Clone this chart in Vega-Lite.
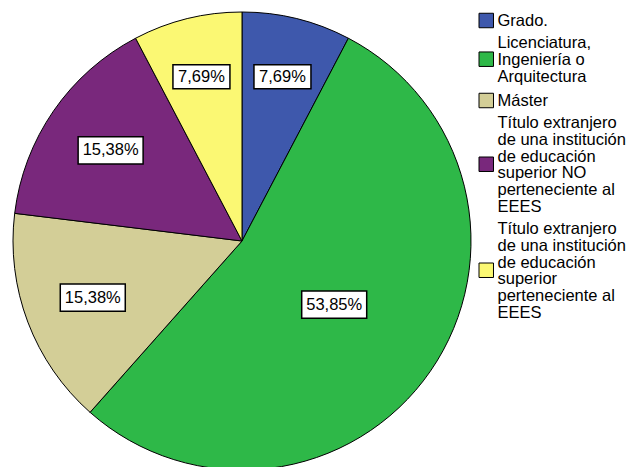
{
  "$schema": "https://vega.github.io/schema/vega-lite/v6.json",
  "autosize": {"type": "none"},
  "width": 458,
  "height": 458,
  "padding": {"left": 13, "top": 12, "right": 164, "bottom": 0},
  "background": "white",
  "config": {"view": {"stroke": null}, "font": "Liberation Sans"},
  "data": {
    "values": [
      {"orden": 1, "categoria": "Grado.", "porcentaje": 7.69, "etiqueta": "7,69%"},
      {"orden": 2, "categoria": "Licenciatura,\nIngeniería o\nArquitectura", "porcentaje": 53.85, "etiqueta": "53,85%"},
      {"orden": 3, "categoria": "Máster", "porcentaje": 15.38, "etiqueta": "15,38%"},
      {"orden": 4, "categoria": "Título extranjero\nde una institución\nde educación\nsuperior NO\nperteneciente al\nEEES", "porcentaje": 15.38, "etiqueta": "15,38%"},
      {"orden": 5, "categoria": "Título extranjero\nde una institución\nde educación\nsuperior\nperteneciente al\nEEES", "porcentaje": 7.69, "etiqueta": "7,69%"}
    ]
  },
  "layer": [
    {
      "mark": {"type": "arc", "stroke": "black", "strokeWidth": 1, "outerRadius": 229},
      "encoding": {
        "theta": {"field": "porcentaje", "type": "quantitative", "stack": true},
        "order": {"field": "orden", "type": "quantitative"},
        "color": {
          "field": "categoria",
          "type": "nominal",
          "sort": null,
          "scale": {"range": ["#3E58AC", "#2EB848", "#D3CE97", "#79287C", "#FBF873"]},
          "legend": {
            "title": null,
            "orient": "none",
            "legendX": 465,
            "legendY": 1,
            "padding": 0,
            "symbolType": "square",
            "symbolSize": 210,
            "symbolStrokeColor": "black",
            "symbolStrokeWidth": 1,
            "symbolOpacity": 1,
            "labelFont": "Liberation Sans",
            "labelFontSize": 16.5,
            "labelColor": "black",
            "labelOffset": 3,
            "labelLimit": 200,
            "rowPadding": 5,
            "labelExpr": "split(datum.label, '\\n')",
            "encode": {
              "labels": {"update": {"lineHeight": {"value": 16.7}}},
              "symbols": {"update": {"y": {"signal": "7.5 + 8.35 * (length(split(datum.value, '\\n')) - 1)"}}}
            }
          }
        }
      }
    },
    {
      "transform": [
        {"window": [{"op": "sum", "field": "porcentaje", "as": "acum"}], "sort": [{"field": "orden"}], "frame": [null, 0]},
        {"calculate": "2 * PI * (datum.acum - datum.porcentaje / 2) / 100", "as": "ang"},
        {"calculate": "0.78 - 0.0054 * datum.porcentaje", "as": "rad"},
        {"calculate": "datum.rad * sin(datum.ang)", "as": "lx"},
        {"calculate": "datum.rad * cos(datum.ang)", "as": "ly"},
        {"calculate": "pow(8 * length(datum.etiqueta) + 17, 2)", "as": "caja"}
      ],
      "encoding": {
        "x": {"field": "lx", "type": "quantitative", "scale": {"domain": [-1, 1]}, "axis": null},
        "y": {"field": "ly", "type": "quantitative", "scale": {"domain": [-1, 1]}, "axis": null}
      },
      "layer": [
        {
          "mark": {"type": "point", "shape": "M-1,-0.42H1V0.42H-1Z", "filled": true, "fill": "white", "stroke": "black", "strokeWidth": 1.5, "opacity": 1},
          "encoding": {"size": {"field": "caja", "type": "quantitative", "scale": null, "legend": null}}
        },
        {
          "mark": {"type": "text", "fontSize": 16.5, "color": "black", "font": "Liberation Sans"},
          "encoding": {"text": {"field": "etiqueta"}}
        }
      ]
    }
  ]
}
